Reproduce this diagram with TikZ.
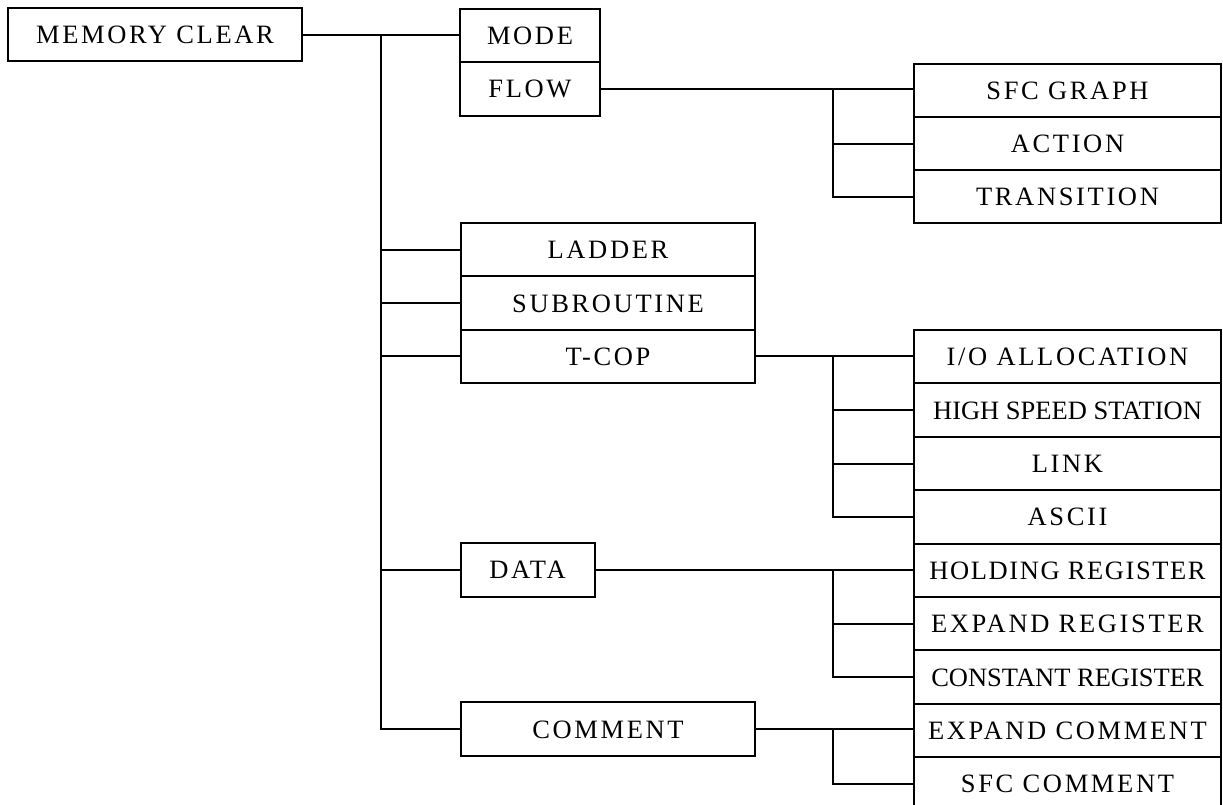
\documentclass[tikz,border=0pt]{standalone}
\usepackage{fontspec}
\setmainfont{Liberation Serif}
\newfontfamily\spacedfont{Liberation Serif}[LetterSpace=10]
\newfontfamily\halfspacedfont{Liberation Serif}[LetterSpace=6]
\begin{document}
\begin{tikzpicture}[x=1pt,y=-1pt,
  cell/.style={draw, line width=2pt, inner sep=0pt, minimum height=53.4pt,
    text height=18pt, text depth=0pt,
    font=\spacedfont\fontsize{26.5}{31}\selectfont},
  tight/.style={font=\rmfamily\fontsize{26.5}{31}\selectfont},
  halftight/.style={font=\halfspacedfont\fontsize{26.5}{31}\selectfont},
  wire/.style={line width=2pt}]
\useasboundingbox (0,0) rectangle (1223,804);
\clip (0,0) rectangle (1223,804);

% root
\node[cell, minimum width=294pt, minimum height=53pt] (mc) at (155,34.5) {MEMORY CLEAR};

% second level
\node[cell, minimum width=140pt] (mode) at (530,35.2) {MODE};
\node[cell, minimum width=140pt] (flow) at (530,88.8) {FLOW};
\node[cell, minimum width=294pt] (ladder) at (608,249.6) {LADDER};
\node[cell, minimum width=294pt] (sub) at (608,303) {SUBROUTINE};
\node[cell, minimum width=294pt] (tcop) at (608,356.4) {T-COP};
\node[cell, minimum width=134pt, minimum height=54pt] (data) at (527.5,569.5) {DATA};
\node[cell, minimum width=294pt, minimum height=54pt] (comment) at (608,729) {COMMENT};

% third level, flow group
\node[cell, minimum width=307pt, minimum height=53pt] (sfc) at (1067.5,90.5) {SFC GRAPH};
\node[cell, minimum width=307pt, minimum height=53pt] (action) at (1067.5,143.5) {ACTION};
\node[cell, minimum width=307pt, minimum height=53pt] (trans) at (1067.5,196.5) {TRANSITION};

% third level, long stack
\node[cell, minimum width=307pt] (io) at (1067.5,356.7) {I/O ALLOCATION};
\node[cell, tight, minimum width=307pt] (hs) at (1067.5,410.1) {HIGH SPEED STATION};
\node[cell, minimum width=307pt] (lnk) at (1067.5,463.5) {LINK};
\node[cell, minimum width=307pt] (ascii) at (1067.5,516.9) {ASCII};
\node[cell, halftight, minimum width=307pt] (hold) at (1067.5,570.3) {HOLDING REGISTER};
\node[cell, minimum width=307pt] (expreg) at (1067.5,623.7) {EXPAND REGISTER};
\node[cell, tight, minimum width=307pt] (constreg) at (1067.5,677.1) {CONSTANT REGISTER};
\node[cell, minimum width=307pt] (expcom) at (1067.5,730.5) {EXPAND COMMENT};
\node[cell, minimum width=307pt] (sfccom) at (1067.5,783.9) {SFC COMMENT};

% trunk from the root
\coordinate (trunk) at (381,34.5);
\coordinate (fork) at (833,0);
\draw[wire] (mc.east) -- (mc.east -| mode.west);
\draw[wire] (trunk) |- (comment.west);
\foreach \n in {ladder,sub,tcop,data}
  \draw[wire] (trunk |- \n.west) -- (\n.west);

% flow group
\draw[wire] (flow.east) -- (flow.east -| sfc.west);
\draw[wire] (fork |- flow.east) |- (trans.west);
\draw[wire] (fork |- action.west) -- (action.west);

% T-COP group
\draw[wire] (tcop.east) -- (tcop.east -| io.west);
\draw[wire] (fork |- tcop.east) |- (ascii.west);
\foreach \n in {hs,lnk}
  \draw[wire] (fork |- \n.west) -- (\n.west);

% data group
\draw[wire] (data.east) -- (data.east -| hold.west);
\draw[wire] (fork |- data.east) |- (constreg.west);
\draw[wire] (fork |- expreg.west) -- (expreg.west);

% comment group
\draw[wire] (comment.east) -- (comment.east -| expcom.west);
\draw[wire] (fork |- comment.east) |- (sfccom.west);
\end{tikzpicture}
\end{document}
